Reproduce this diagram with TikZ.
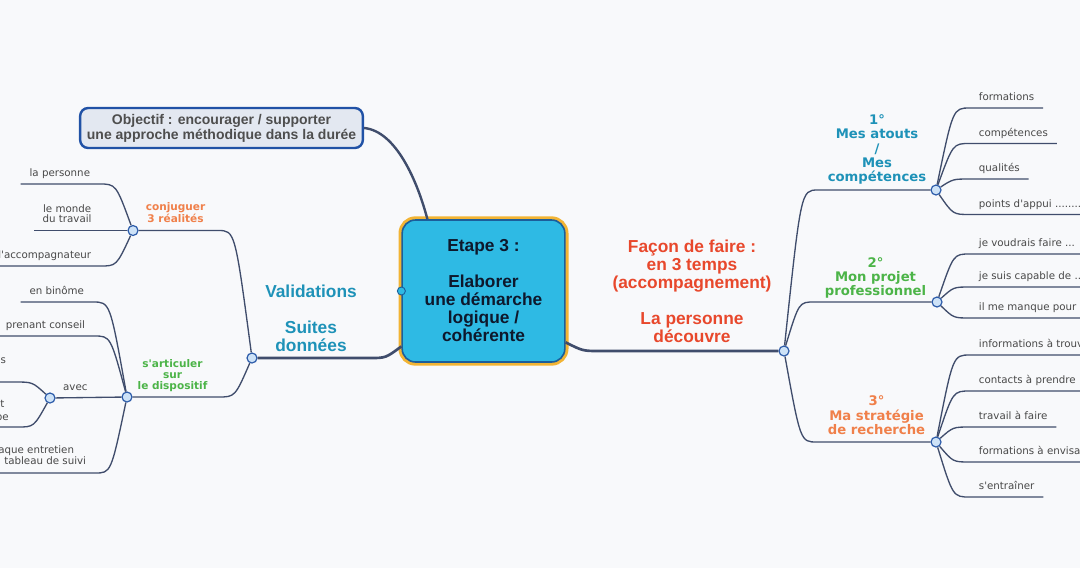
\documentclass[tikz,border=0pt]{standalone}
\usepackage{fontspec}
\setmainfont{Liberation Sans}
\newfontfamily\leaffont{DejaVu Sans}
\usepackage{xcolor}
\usetikzlibrary{positioning,calc}

\definecolor{bg}{RGB}{248,249,251}
\definecolor{linec}{RGB}{64,77,108}
\definecolor{hubfill}{RGB}{205,226,247}
\definecolor{hubline}{RGB}{45,92,170}
\definecolor{leaftext}{RGB}{72,72,72}
\definecolor{tealb}{RGB}{30,146,184}
\definecolor{greenb}{RGB}{76,180,72}
\definecolor{orangeb}{RGB}{240,128,74}
\definecolor{redb}{RGB}{232,72,44}
\definecolor{ctrfill}{RGB}{46,186,228}
\definecolor{ctrline}{RGB}{28,94,154}
\definecolor{ctrring}{RGB}{242,180,52}
\definecolor{ctrtext}{RGB}{14,24,44}
\definecolor{objfill}{RGB}{227,232,241}
\definecolor{objline}{RGB}{33,82,166}
\definecolor{objtext}{RGB}{78,78,78}

\tikzset{
  link/.style={draw=linec, line width=1pt},
  trunk/.style={draw=linec, line width=2pt},
  elbow/.style={to path={.. controls ($(\tikztostart |- \tikztotarget)!0.5!(\tikztotarget)$) .. (\tikztotarget)}},
  hub/.style={circle, draw=hubline, fill=hubfill, line width=0.9pt, minimum size=7.5pt, inner sep=0pt},
  leaf/.style={font=\leaffont\fontsize{7.7}{9}\selectfont, text=leaftext, inner xsep=6.5pt, inner ysep=3.2pt, text height=6pt, text depth=2pt},
  leaftwo/.style={font=\leaffont\fontsize{7.7}{7.3}\selectfont, text=leaftext, inner xsep=6.5pt, inner ysep=6pt, align=center},
  branchlab/.style={font=\leaffont\bfseries\fontsize{9.9}{10.8}\selectfont, align=center, inner sep=0pt, anchor=south},
  smalllab/.style={font=\leaffont\bfseries\fontsize{7.9}{8.3}\selectfont, align=center, inner sep=0pt, anchor=south},
  biglab/.style={font=\bfseries\fontsize{13}{13.5}\selectfont, align=center, inner sep=0pt, anchor=south},
}

\begin{document}
\begin{tikzpicture}[x=0.75pt, y=-0.75pt]
\useasboundingbox (0,0) rectangle (1080,568);
\fill[bg] (0,0) rectangle (1080,568);
\clip (0,0) rectangle (1080,568);

% centre et objectif
\node[rounded corners=10pt, fill=ctrfill, draw=ctrline, line width=1.2pt,
      preaction={draw=ctrring, line width=5.5pt},
      minimum width=122pt, minimum height=106.5pt, align=center, text=ctrtext,
      font=\bfseries\fontsize{13}{13.5}\selectfont] (ctr) at (483.5,291)
      {Etape 3 :\\[13.5pt]Elaborer\\une démarche\\logique /\\cohérente};
\node[circle, fill=ctrfill, draw=ctrline, line width=0.7pt, minimum size=6pt, inner sep=0pt] (knob) at (ctr.west) {};
\node[rounded corners=6pt, fill=objfill, draw=objline, line width=1.8pt,
      minimum width=212pt, minimum height=30pt, align=center, text=objtext, inner sep=0pt,
      font=\bfseries\fontsize{10.5}{11.3}\selectfont] (obj) at (221.5,128)
      {Objectif : encourager / supporter\\une approche méthodique dans la durée};

% noeuds
\node[hub] (hV) at (252,358) {};
\node[hub] (hC) at (133,230.5) {};
\node[hub] (hA) at (127,397) {};
\node[hub] (hW) at (50,398) {};
\node[hub] (hR) at (784,351) {};
\node[hub] (h1) at (936,190) {};
\node[hub] (h2) at (937,302) {};
\node[hub] (h3) at (936,442) {};

\coordinate (v1) at (370,358);
\coordinate (f0) at (600,351);
\coordinate (c1) at (218,230.5);
\coordinate (s1) at (218,397);
\coordinate (a1) at (818,190);
\coordinate (a2) at (814,302);
\coordinate (a3) at (817,442);
\coordinate (ls1) at (15,382);
\coordinate (ls0) at (-2,382);

% titres des branches
\node[biglab, text=tealb] (lbV) at ($(hV)!0.5!(v1)+(0,-6)$) {Validations\\[13.5pt]Suites\\données};
\node[biglab, text=redb] (lbF) at ($(f0)!0.5!(hR)+(0,-8)$) {Façon de faire :\\en 3 temps\\(accompagnement)\\[13.5pt]La personne\\découvre};
\node[smalllab, text=orangeb, font=\leaffont\bfseries\fontsize{7.9}{7}\selectfont] (lbC) at ($(hC)!0.5!(c1)+(0,-7.5)$) {conjuguer\\3 réalités};
\node[smalllab, text=greenb] (lbA) at ($(hA)!0.5!(s1)+(0,-5)$) {s'articuler\\sur\\le dispositif};
\node[branchlab, text=tealb] (lb1) at ($(a1)!0.5!(h1)+(0,-5)$) {1°\\Mes atouts\\/\\Mes\\compétences};
\node[branchlab, text=greenb] (lb2) at ($(a2)!0.5!(h2)+(0,-3)$) {2°\\Mon projet\\professionnel};
\node[branchlab, text=orangeb] (lb3) at ($(a3)!0.5!(h3)+(0,-7)$) {3°\\Ma stratégie\\de recherche};

% feuilles a gauche
\node[leaf, anchor=south east] (lp) at (99,184) {la personne};
\node[leaftwo, anchor=south east] (lm) at (100.5,230.5) {le monde\\du travail};
\node[leaf, anchor=south east] (la) at (100,266) {l'accompagnateur};
\node[leaf, anchor=south east] (lb) at (93,302) {en binôme};
\node[leaf, anchor=south east] (lc) at (94,336) {prenant conseil};
\node[leaf, anchor=base east] (ls) at (15,363) {s};
\node[leaftwo, anchor=south east, inner ysep=4.5pt] (lt) at (17.7,427) {t\\[2.4pt]be};
\node[leaftwo, anchor=south east, align=right] (le) at (95,473) {chaque entretien\hspace*{9pt}\\tableau de suivi};

% feuilles a droite
\node[leaf, anchor=south west] (r11) at (970,108) {formations};
\node[leaf, anchor=south west] (r12) at (970,143.5) {compétences};
\node[leaf, anchor=south west] (r13) at (970,179) {qualités};
\node[leaf, anchor=south west] (r14) at (970,214.5) {points d'appui ........};
\node[leaf, anchor=south west] (r21) at (970,254) {je voudrais faire ...};
\node[leaf, anchor=south west] (r22) at (970,287) {je suis capable de ...};
\node[leaf, anchor=south west] (r23) at (970,318) {il me manque pour ...};
\node[leaf, anchor=south west] (r31) at (970,355) {informations à trouver};
\node[leaf, anchor=south west] (r32) at (970,391) {contacts à prendre};
\node[leaf, anchor=south west] (r33) at (970,427) {travail à faire};
\node[leaf, anchor=south west] (r34) at (970,462) {formations à envisager};
\node[leaf, anchor=south west] (r35) at (970,497) {s'entraîner};

% liens
\draw[trunk, line width=1.8pt] (obj.east) .. controls +(32,3) and +(-10,-38) .. (ctr.128);
\draw[trunk] (ctr.214) to[elbow] (v1) -- (hV);
\draw[trunk] (ctr.-32) to[elbow] (f0) -- (hR);

\draw[link] (hV) to[elbow] (c1) -- (hC);
\draw[link] (hV) to[elbow] (s1) -- (hA);
\draw[link] (hC) to[elbow] (lp.south east) -- (lp.south west);
\draw[link] (hC) -- (lm.south east) -- (lm.south west);
\draw[link] (hC) to[elbow] (la.south east) -- (la.south west);
\draw[link] (hA) to[elbow] (lb.south east) -- (lb.south west);
\draw[link] (hA) to[elbow] (lc.south east) -- (lc.south west);
\draw[link] (hA) -- node[leaf, pos=0.7, anchor=south] (avec) {avec} (hW);
\draw[link] (hA) to[elbow] (le.south east) -- (le.south west);
\draw[link] (hW) to[elbow] (ls1) -- (ls0);
\draw[link] (hW) to[elbow] (lt.south east) -- (lt.south west);

\draw[link] (hR) to[elbow] (a1) -- (h1);
\draw[link] (hR) to[elbow] (a2) -- (h2);
\draw[link] (hR) to[elbow] (a3) -- (h3);
\foreach \n in {r11,r12,r13,r14}
  \draw[link] (h1) to[elbow] (\n.south west) -- (\n.south east);
\foreach \n in {r21,r22,r23}
  \draw[link] (h2) to[elbow] (\n.south west) -- (\n.south east);
\foreach \n in {r31,r32,r33,r34,r35}
  \draw[link] (h3) to[elbow] (\n.south west) -- (\n.south east);
\end{tikzpicture}
\end{document}
